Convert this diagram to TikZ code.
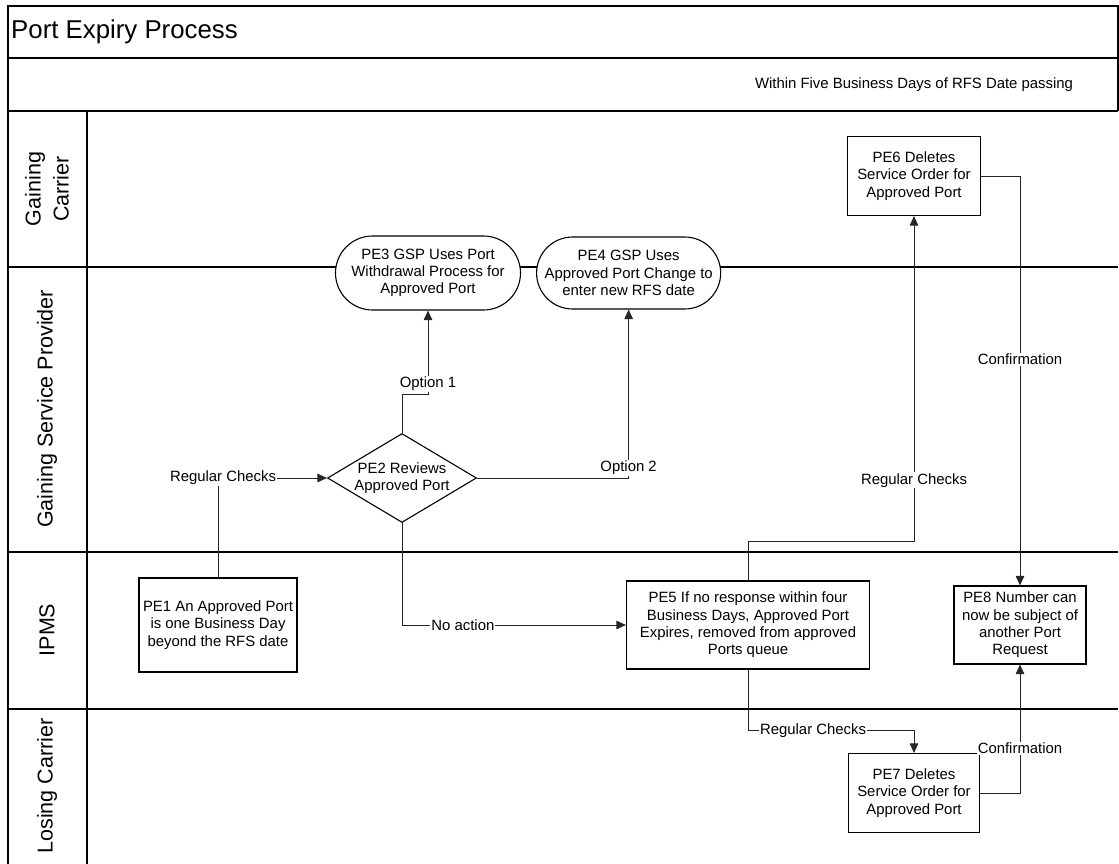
\documentclass[tikz,border=0pt]{standalone}
\usepackage{fontspec}
\setmainfont{Liberation Sans}
\usetikzlibrary{positioning, arrows.meta, shapes.geometric, shapes.misc}
\newcommand{\pefont}{\fontsize{14.9}{17.3}\selectfont}
\newcommand{\lanefont}{\fontsize{21.5}{28}\selectfont}
\newcommand{\titlefont}{\fontsize{25.8}{30}\selectfont}
\tikzset{
	lane/.style={line width=1.3pt},
	stepbox/.style={draw, fill=white, line width=1.1pt, align=center, font=\pefont, inner sep=0pt},
	flow/.style={line width=0.9pt, draw=black!85, -{Triangle[length=9.5pt,width=8.5pt]}},
	lbl/.style={fill=white, font=\pefont, inner sep=1pt}
}
\begin{document}
\begin{tikzpicture}[x=1pt, y=-1pt]
	\useasboundingbox (0,0) rectangle (1119,864);
	\draw[lane] (8,864) -- (8,6) -- (1118,6) -- (1118,111);
	\draw[lane] (8,58) -- (1118,58);
	\draw[lane] (8,111) -- (1118,111);
	\draw[lane] (87,111) -- (87,864);
	\foreach \y in {267,552,709}
		\draw[lane] (8,\y) -- (1118,\y);

	\node[font=\titlefont, anchor=west, inner sep=0pt] (title) at (11,32) {Port Expiry Process};
	\node[font=\pefont] (phase) at (914,85) {Within Five Business Days of RFS Date passing};

	\node[font=\lanefont, rotate=90, align=center] (gc) at (47,189) {Gaining\\Carrier};
	\node[font=\lanefont, rotate=90] (gsp) at (47,409) {Gaining Service Provider};
	\node[font=\lanefont, rotate=90] (ipms) at (47,630) {IPMS};
	\node[font=\lanefont, rotate=90] (lc) at (47,786) {Losing Carrier};

	\node[stepbox, minimum width=158pt, minimum height=94pt] (pe1) at (218,625) {PE1 An Approved Port\\is one Business Day\\beyond the RFS date};
	\node[stepbox, diamond, aspect=1.67, minimum width=149pt, minimum height=89pt] (pe2) at (402,478) {PE2 Reviews\\Approved Port};
	\node[stepbox, rounded rectangle, minimum width=185pt, minimum height=74pt] (pe3) at (428,273) {PE3 GSP Uses Port\\Withdrawal Process for\\Approved Port};
	\node[stepbox, rounded rectangle, minimum width=180pt, minimum height=72pt, right=15pt of pe3] (pe4) {PE4 GSP Uses\\Approved Port Change to\\enter new RFS date};
	\node[stepbox, minimum width=243pt, minimum height=88pt] (pe5) at (748,625) {PE5 If no response within four\\Business Days, Approved Port\\Expires, removed from approved\\Ports queue};
	\node[stepbox, minimum width=133pt, minimum height=79pt] (pe6) at (914,176) {PE6 Deletes\\Service Order for\\Approved Port};
	\node[stepbox, minimum width=131pt, minimum height=79pt] (pe7) at (914,793) {PE7 Deletes\\Service Order for\\Approved Port};
	\node[stepbox, minimum width=132pt, minimum height=78pt] (pe8) at (1020,625) {PE8 Number can\\now be subject of\\another Port\\Request};

	\draw[flow] (pe1.north) |- (pe2.west) node[lbl, pos=0.523] (rc1) {Regular Checks};
	\draw[flow] (pe2.north) -- ++(0,-39) -| (pe3.south) node[lbl, pos=0.56] (opt1) {Option 1};
	\draw[flow] (pe2.east) -| (pe4.south) node[lbl, pos=0.53] (opt2) {Option 2};
	\draw[flow] (pe2.south) |- (pe5.west) node[lbl, pos=0.636] (noact) {No action};
	\draw[flow] (pe5.north) -- ++(0,-39) -| (pe6.south) node[lbl, pos=0.594] (rc2) {Regular Checks};
	\draw[flow] (pe5.south) -- ++(0,61) -| (pe7.north) node[lbl, pos=0.196] (rc3) {Regular Checks};
	\draw[flow] (pe6.east) -| (pe8.north) node[lbl, pos=0.724] (conf1) {Confirmation};
	\draw[flow] (pe7.east) -| (pe8.south) node[lbl, pos=0.674] (conf2) {Confirmation};
\end{tikzpicture}
\end{document}
